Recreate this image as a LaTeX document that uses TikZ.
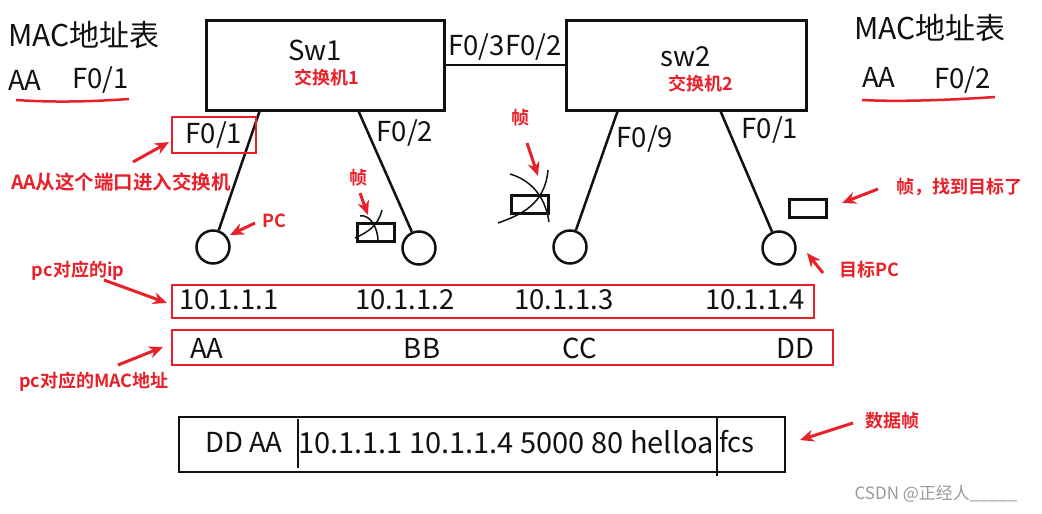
\documentclass[tikz,border=0pt]{standalone}
\usepackage{fontspec}
\setmainfont{Noto Sans CJK SC}[BoldFont={Noto Sans CJK SC Bold}]
\usetikzlibrary{arrows.meta}
\definecolor{ink}{HTML}{111111}
\definecolor{redink}{HTML}{E8202A}
\definecolor{wm}{HTML}{9A9A9A}

\begin{document}
\begin{tikzpicture}[x=1pt,y=-1pt,
  txt/.style={inner sep=0,font=\fontsize{27.5}{29}\selectfont,text=ink},
  rtxt/.style={inner sep=0,font=\bfseries\fontsize{18}{20}\selectfont,text=redink},
  swbox/.style={draw=ink,line width=3pt,minimum width=238pt,minimum height=90pt,inner sep=0},
  pcnode/.style={draw=ink,line width=2.5pt,circle,minimum size=33pt,inner sep=0},
  frm/.style={draw=ink,line width=3pt,minimum width=37pt,minimum height=18pt,inner sep=0},
  redbox/.style={draw=redink,line width=2pt,inner sep=0},
  rarr/.style={redink,line width=3pt,-{Stealth[length=14pt,width=12pt]}},
  wire/.style={ink,line width=2.5pt},
  squig/.style={ink,line width=1.5pt}]
\useasboundingbox[fill=white] (0,0) rectangle (1042,514);

\node[txt,anchor=west,font=\fontsize{30}{32}\selectfont] (tabL) at (8,35) {MAC地址表};
\node[txt,anchor=west] (tabLa) at (8,80) {AA};
\node[txt,anchor=west] (tabLp) at (72,80) {F0/1};
\draw[redink,line width=2.5pt] (16,100) .. controls (60,103) and (100,101) .. (129,99);
\node[txt,anchor=west,font=\fontsize{30}{32}\selectfont] (tabR) at (854,28) {MAC地址表};
\node[txt,anchor=west] (tabRa) at (862,77) {AA};
\node[txt,anchor=west] (tabRp) at (934,80) {F0/2};
\draw[redink,line width=2.5pt] (862,100) .. controls (900,102) and (950,100) .. (995,97);

\node[swbox] (sw1) at (325,65) {};
\node[txt] (sw1name) at (315,50) {Sw1};
\node[rtxt] (sw1cn) at (327,78) {交换机1};
\node[swbox,minimum width=240pt] (sw2) at (686,65) {};
\node[txt] (sw2name) at (686,57) {sw2};
\node[rtxt] (sw2cn) at (701,84) {交换机2};
\draw[wire] (sw1.east) -- (sw2.west);
\node[txt] (uplink) at (505,47) {F0/3F0/2};

\node[pcnode] (pc1) at (213,247) {};
\node[pcnode] (pc2) at (419,248) {};
\node[pcnode] (pc3) at (570,247) {};
\node[pcnode] (pc4) at (779,248) {};
\coordinate (s1a) at (260,110);
\coordinate (s1b) at (358,110);
\coordinate (s2a) at (618,110);
\coordinate (s2b) at (720,110);
\draw[wire] (s1a) -- (pc1);
\draw[wire] (s1b) -- (pc2);
\draw[wire] (s2a) -- (pc3);
\draw[wire] (s2b) -- (pc4);

\node[txt] (f01) at (214,135) {F0/1};
\node[redbox,minimum width=84pt,minimum height=36pt] (f01box) at (214,135) {};
\node[txt] (f02) at (405,133) {F0/2};
\node[txt] (f09) at (645,139) {F0/9};
\node[txt] (f01r) at (770,130) {F0/1};

\node[frm] (fr1) at (375.5,232) {};
\draw[squig] (355,238) .. controls (368,232) and (378,226) .. (382,210);
\draw[squig] (360,216) .. controls (370,214) and (378,228) .. (378,241);
\node[frm] (fr2) at (530,204) {};
\draw[squig] (510,174) .. controls (530,180) and (545,195) .. (549,222);
\draw[squig] (498,223) .. controls (520,215) and (545,205) .. (548,170);
\node[frm] (fr3) at (808,208) {};

\node[rtxt] (fr1lbl) at (358,178) {帧};
\coordinate (a1t) at (360,193);
\coordinate (a1h) at (368,215);
\draw[rarr] (a1t) -- (a1h);
\node[rtxt] (fr2lbl) at (520,118) {帧};
\coordinate (a2t) at (527,143);
\coordinate (a2h) at (538,176);
\draw[rarr] (a2t) -- (a2h);
\node[rtxt] (fr3lbl) at (959,187) {帧，找到目标了};
\coordinate (a3t) at (878,189);
\coordinate (a3h) at (842,203);
\draw[rarr] (a3t) -- (a3h);
\node[rtxt] (goal) at (869,270) {目标PC};
\coordinate (a4t) at (823,273);
\coordinate (a4h) at (807,253);
\draw[rarr] (a4t) -- (a4h);
\node[rtxt] (pclbl) at (274,221) {PC};
\coordinate (a5t) at (255,223);
\coordinate (a5h) at (230,235);
\draw[rarr] (a5t) -- (a5h);
\node[rtxt,font=\bfseries\fontsize{19.5}{21}\selectfont] (portlbl) at (121,182) {AA从这个端口进入交换机};
\coordinate (a6t) at (133,162);
\coordinate (a6h) at (169,142);
\draw[rarr] (a6t) -- (a6h);

\node[redbox,minimum width=642pt,minimum height=33pt] (iprow) at (493,301.5) {};
\node[txt] (ip1) at (229,300) {10.1.1.1};
\node[txt] (ip2) at (405,300) {10.1.1.2};
\node[txt] (ip3) at (564,300) {10.1.1.3};
\node[txt] (ip4) at (755,300) {10.1.1.4};
\node[rtxt] (iplbl) at (78,271) {pc对应的ip};
\coordinate (a7t) at (104,280);
\coordinate (a7h) at (167,303);
\draw[rarr] (a7t) -- (a7h);

\node[redbox,minimum width=661pt,minimum height=35pt] (macrow) at (502.5,347.5) {};
\node[txt] (mac1) at (207,348) {AA};
\node[txt] (mac2) at (422,348) {BB};
\node[txt] (mac3) at (580,348) {CC};
\node[txt] (mac4) at (795,348) {DD};
\node[rtxt] (maclbl) at (94,382) {pc对应的MAC地址};
\coordinate (a8t) at (118,365);
\coordinate (a8h) at (163,347);
\draw[rarr] (a8t) -- (a8h);

\node[draw=ink,line width=2.5pt,minimum width=606pt,minimum height=55pt,inner sep=0] (pkt) at (482,444.5) {};
\draw[wire] (298,419) -- (298,468);
\draw[wire] (717,417) -- (717,476);
\node[txt] (pktmac) at (244,442) {DD AA};
\node[txt,font=\fontsize{29}{31}\selectfont] (pktbody) at (506,442) {10.1.1.1 10.1.1.4 5000 80 helloa};
\node[txt] (pktfcs) at (737,442) {fcs};
\node[rtxt] (pktlbl) at (892,421) {数据帧};
\coordinate (a9t) at (853,423);
\coordinate (a9h) at (800,440);
\draw[rarr] (a9t) -- (a9h);

\node[inner sep=0,font=\fontsize{17}{19}\selectfont,text=wm] (wmark) at (936,494) {CSDN @正经人\_\_\_\_\_};
\end{tikzpicture}
\end{document}
